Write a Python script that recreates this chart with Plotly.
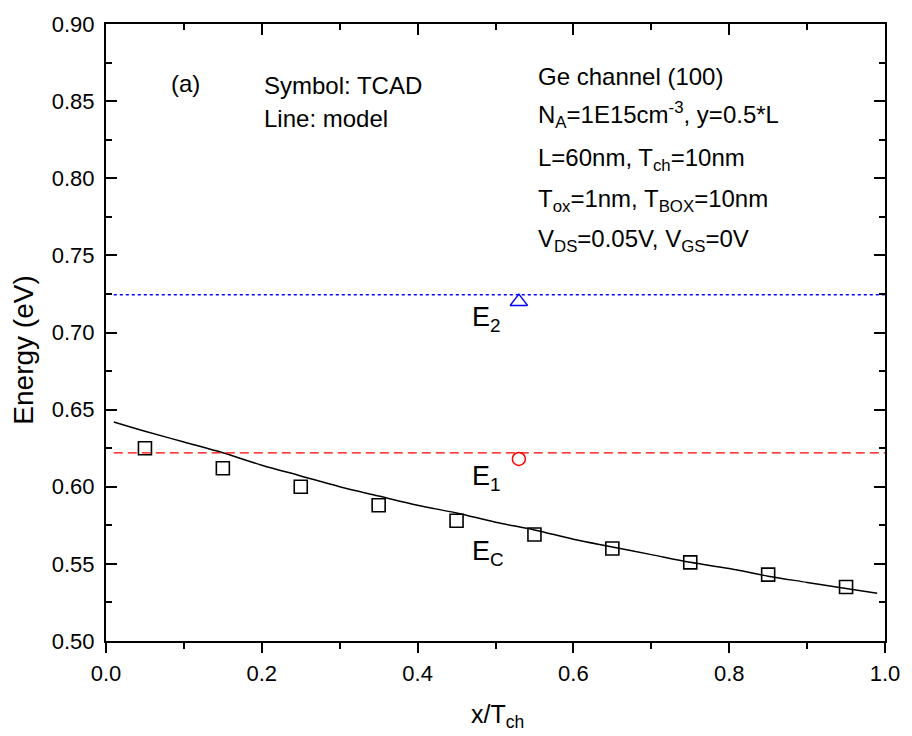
import plotly.graph_objects as go

# TCAD symbols (Ec)
x_tcad = [0.05, 0.15, 0.25, 0.35, 0.45, 0.55, 0.65, 0.75, 0.85, 0.95]
ec_tcad = [0.625, 0.612, 0.600, 0.588, 0.578, 0.569, 0.560, 0.551, 0.543, 0.535]

# model line (Ec)
x_model = [0.01, 0.05, 0.10, 0.15, 0.20, 0.25, 0.30, 0.35, 0.40, 0.45, 0.50,
           0.55, 0.60, 0.65, 0.70, 0.75, 0.80, 0.85, 0.90, 0.95, 0.99]
ec_model = [0.642, 0.636, 0.629, 0.622, 0.614, 0.607, 0.600, 0.594, 0.588, 0.583, 0.577,
            0.572, 0.566, 0.561, 0.556, 0.551, 0.547, 0.542, 0.538, 0.534, 0.531]

# subband energies
x_level = [0.01, 1.0]
e1_model = [0.622, 0.622]
e2_model = [0.7245, 0.7245]
x_sub = [0.53]
e1_tcad = [0.618]
e2_tcad = [0.720]

FONT = "Liberation Sans, Arial, sans-serif"

fig = go.Figure()
fig.add_trace(go.Scatter(x=x_model, y=ec_model, mode="lines", line_shape="spline",
                         line=dict(color="black", width=1.5), showlegend=False))
fig.add_trace(go.Scatter(x=x_tcad, y=ec_tcad, mode="markers",
                         marker=dict(symbol="square-open", size=13, color="black",
                                     line=dict(width=1.6)), showlegend=False))
fig.add_trace(go.Scatter(x=x_level, y=e1_model, mode="lines",
                         line=dict(color="red", width=1.3, dash="9px,5px"), showlegend=False))
fig.add_trace(go.Scatter(x=x_level, y=e2_model, mode="lines",
                         line=dict(color="blue", width=1.5, dash="dot"), showlegend=False))
fig.add_trace(go.Scatter(x=x_sub, y=e1_tcad, mode="markers",
                         marker=dict(symbol="circle-open", size=13, color="red",
                                     line=dict(width=1.5)), showlegend=False))
fig.add_trace(go.Scatter(x=x_sub, y=e2_tcad, mode="markers",
                         marker=dict(symbol="triangle-up-open", size=15, color="blue",
                                     line=dict(width=1.5)), showlegend=False))
# invisible trace to draw the top axis
fig.add_trace(go.Scatter(x=[0.5], y=[0.7], xaxis="x2", mode="markers",
                         marker=dict(opacity=0), showlegend=False, hoverinfo="skip"))

ann = []
def add(text, x, y, xanchor="left", size=24):
    ann.append(dict(text=text, x=x, y=y, xref="x", yref="y", showarrow=False,
                    xanchor=xanchor, yanchor="middle",
                    font=dict(size=size, color="black", family=FONT)))

add("(a)", 0.102, 0.8614, xanchor="center")
add("Symbol: TCAD", 0.200, 0.8600)
add("Line: model", 0.200, 0.8386)
add("Ge channel (100)", 0.552, 0.8660)
add("N<sub>A</sub>=1E15cm<sup>-3</sup>, y=0.5*L", 0.552, 0.8410)
add("L=60nm, T<sub>ch</sub>=10nm", 0.552, 0.8120)
add("T<sub>ox</sub>=1nm, T<sub>BOX</sub>=10nm", 0.552, 0.7855)
add("V<sub>DS</sub>=0.05V, V<sub>GS</sub>=0V", 0.552, 0.7595)
add("E<sub>2</sub>", 0.467, 0.709, size=27)
add("E<sub>1</sub>", 0.467, 0.606, size=27)
add("E<sub>C</sub>", 0.467, 0.557, size=27)

# axis titles as annotations for exact placement
ann.append(dict(text="Energy (eV)", x=-0.1056, y=0.4718, xref="paper", yref="paper",
                textangle=-90, showarrow=False, xanchor="center", yanchor="middle",
                font=dict(size=28, color="black", family=FONT)))
ann.append(dict(text="x/T<sub>ch</sub>", x=0.4658, y=-0.122, xref="x", yref="paper",
                showarrow=False, xanchor="left", yanchor="middle",
                font=dict(size=25, color="black", family=FONT)))

axis_common = dict(showline=True, linecolor="black", linewidth=2, showgrid=False,
                   zeroline=False, tickcolor="black", tickwidth=2,
                   tickfont=dict(size=22, color="black", family=FONT))

fig.update_layout(
    width=912, height=736,
    margin=dict(l=106, r=20, t=20, b=95),
    paper_bgcolor="white", plot_bgcolor="white",
    font=dict(family=FONT, color="black"),
    annotations=ann,
    xaxis=dict(range=[0, 1.0], tickvals=[0.0, 0.2, 0.4, 0.6, 0.8, 1.0],
               ticktext=["0.0", "0.2", "0.4", "0.6", "0.8", "1.0"],
               ticks="outside", ticklen=10, mirror=False, ticklabelstandoff=2,
               minor=dict(tickvals=[0.1, 0.3, 0.5, 0.7, 0.9], ticks="outside", ticklen=6,
                          tickwidth=2, tickcolor="black"),
               **axis_common),
    xaxis2=dict(range=[0, 1.0], overlaying="x", side="top", anchor="y",
                tickvals=[0.0, 0.2, 0.4, 0.6, 0.8, 1.0], showticklabels=False,
                ticks="inside", ticklen=11,
                minor=dict(tickvals=[0.1, 0.3, 0.5, 0.7, 0.9], ticks="inside", ticklen=6,
                           tickwidth=2, tickcolor="black"),
                **axis_common),
    yaxis=dict(range=[0.50, 0.90], tickvals=[0.50, 0.55, 0.60, 0.65, 0.70, 0.75, 0.80, 0.85, 0.90],
               ticktext=["0.50", "0.55", "0.60", "0.65", "0.70", "0.75", "0.80", "0.85", "0.90"],
               ticks="inside", ticklen=11, mirror="ticks", ticklabelstandoff=5,
               minor=dict(tickvals=[0.525, 0.575, 0.625, 0.675, 0.725, 0.775, 0.825, 0.875],
                          ticks="inside", ticklen=6, tickwidth=2, tickcolor="black"),
               **axis_common),
)

fig.write_html("out.html")
